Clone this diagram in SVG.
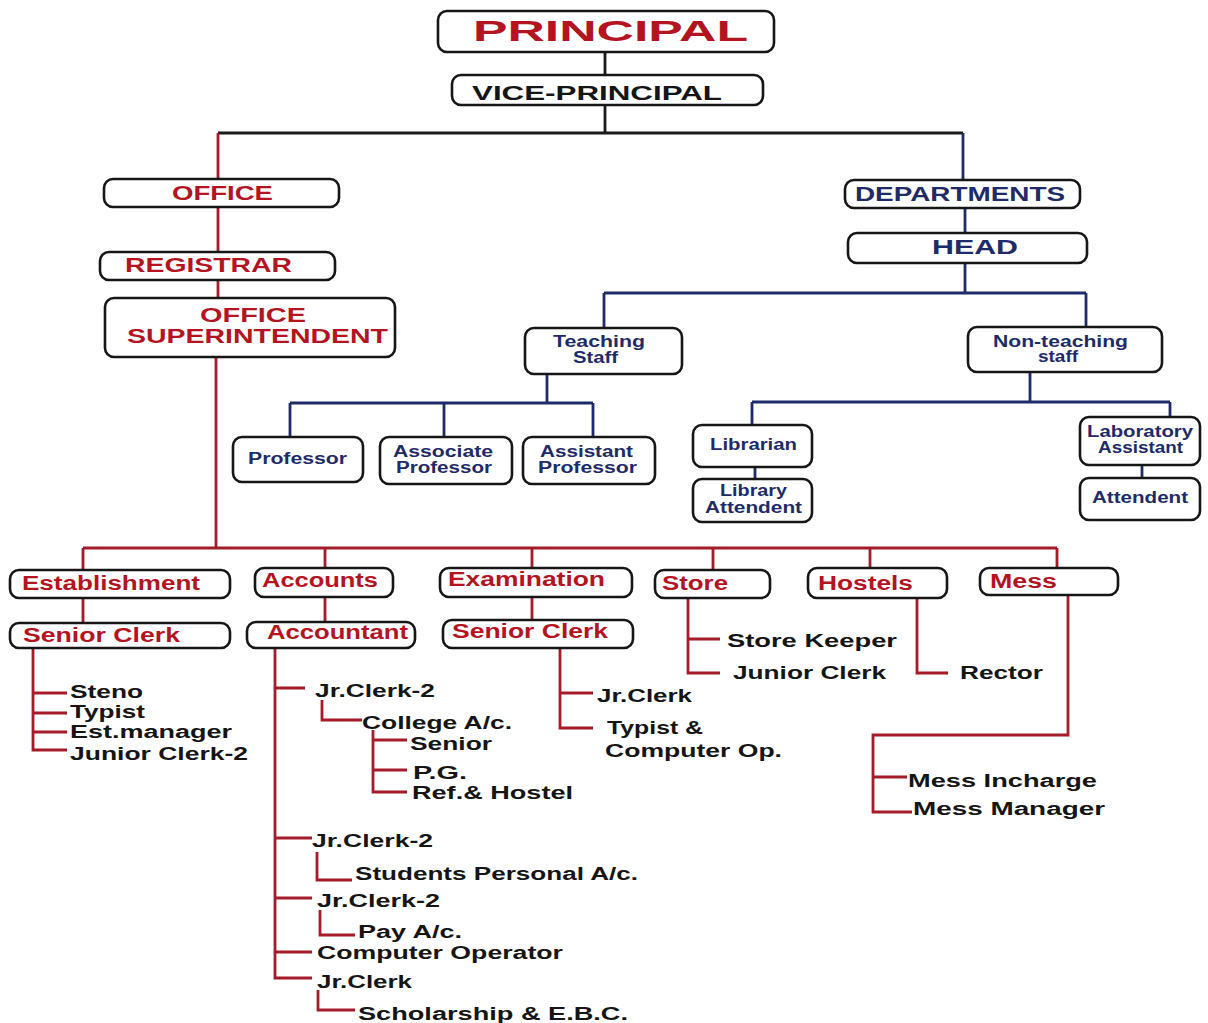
<svg xmlns="http://www.w3.org/2000/svg" width="1208" height="1023" viewBox="0 0 1208 1023">
<style>
.box{fill:#fff;stroke:#161616;stroke-width:2.6}
.t{font-family:"Liberation Sans",Arial,sans-serif;font-weight:bold}
.red{fill:#b3141f}
.navy{fill:#1f2b69}
.blk{fill:#151515}
.lr{fill:none;stroke:#a51b2a;stroke-width:2.8}
.ln{fill:none;stroke:#1f2b69;stroke-width:2.8}
.lk{fill:none;stroke:#1a1a1a;stroke-width:2.8}
</style>
<rect width="1208" height="1023" fill="#fff"/>
<g id="connectors">
<path class="lk" d="M605 52V75M605 105V133M218 133H963"/>
<path class="lr" d="M218 133V179M218 207V252M218 280V298M216 357V548M83 548H1057M83 548V570M325 548V568M532 548V568M713 548V570M870 548V568M1057 548V568M83 598V623M325 597V622M532 597V620"/>
<path class="lr" d="M33 648V750H67M33 693H67M33 713H67M33 732H67"/>
<path class="lr" d="M275 648V978H312M275 688H305M275 838H312M275 898H312M275 952H312M322 700V720H362M373 730V792H407M373 740H407M373 770H407M317 852V880H352M320 910V935H355M318 990V1010H355"/>
<path class="lr" d="M560 648V728H593M560 693H593M688 598V673H720M688 639H720M917 598V673H948M1068 595V735H873V812H912M873 777H907"/>
<path class="ln" d="M963 133V180M965 208V233M965 263V293M604 293H1086M604 293V328M1086 293V327M547 374V403M290 403H593M290 403V437M444 403V437M593 403V437M1030 372V402M752 402H1170M752 402V425M1170 402V417M755 467V479M1142 465V478"/>
</g>
<g id="principal"><rect class="box" x="438" y="11" width="336" height="41" rx="9"/><text class="t red" x="473" y="41" font-size="30" textLength="275" lengthAdjust="spacingAndGlyphs">PRINCIPAL</text></g>
<g id="vice-principal"><rect class="box" x="452" y="75" width="311" height="30" rx="9"/><text class="t blk" x="472" y="100" font-size="21" textLength="250" lengthAdjust="spacingAndGlyphs">VICE-PRINCIPAL</text></g>
<g id="office"><rect class="box" x="104" y="179" width="235" height="28" rx="9"/><text class="t red" x="172" y="200" font-size="21" textLength="101" lengthAdjust="spacingAndGlyphs">OFFICE</text></g>
<g id="registrar"><rect class="box" x="100" y="252" width="235" height="28" rx="9"/><text class="t red" x="125" y="272" font-size="20" textLength="167" lengthAdjust="spacingAndGlyphs">REGISTRAR</text></g>
<g id="office-superintendent"><rect class="box" x="105" y="298" width="290" height="59" rx="9"/><text class="t red" x="200" y="322" font-size="20" textLength="106" lengthAdjust="spacingAndGlyphs">OFFICE</text><text class="t red" x="127" y="343" font-size="20" textLength="261" lengthAdjust="spacingAndGlyphs">SUPERINTENDENT</text></g>
<g id="departments"><rect class="box" x="845" y="180" width="235" height="28" rx="9"/><text class="t navy" x="855" y="201" font-size="21" textLength="210" lengthAdjust="spacingAndGlyphs">DEPARTMENTS</text></g>
<g id="head"><rect class="box" x="848" y="233" width="239" height="30" rx="9"/><text class="t navy" x="932" y="254" font-size="21" textLength="86" lengthAdjust="spacingAndGlyphs">HEAD</text></g>
<g id="teaching-staff"><rect class="box" x="525" y="328" width="157" height="46" rx="9"/><text class="t navy" x="553" y="347" font-size="16" textLength="92" lengthAdjust="spacingAndGlyphs">Teaching</text><text class="t navy" x="573" y="363" font-size="16" textLength="45" lengthAdjust="spacingAndGlyphs">Staff</text></g>
<g id="professor"><rect class="box" x="233" y="437" width="130" height="45" rx="9"/><text class="t navy" x="248" y="464" font-size="16" textLength="99" lengthAdjust="spacingAndGlyphs">Professor</text></g>
<g id="associate-professor"><rect class="box" x="380" y="437" width="132" height="47" rx="9"/><text class="t navy" x="393" y="457" font-size="16" textLength="100" lengthAdjust="spacingAndGlyphs">Associate</text><text class="t navy" x="396" y="473" font-size="16" textLength="96" lengthAdjust="spacingAndGlyphs">Professor</text></g>
<g id="assistant-professor"><rect class="box" x="523" y="437" width="132" height="47" rx="9"/><text class="t navy" x="540" y="457" font-size="16" textLength="93" lengthAdjust="spacingAndGlyphs">Assistant</text><text class="t navy" x="538" y="473" font-size="16" textLength="99" lengthAdjust="spacingAndGlyphs">Professor</text></g>
<g id="non-teaching-staff"><rect class="box" x="968" y="327" width="194" height="45" rx="9"/><text class="t navy" x="993" y="347" font-size="16" textLength="135" lengthAdjust="spacingAndGlyphs">Non-teaching</text><text class="t navy" x="1038" y="362" font-size="16" textLength="40" lengthAdjust="spacingAndGlyphs">staff</text></g>
<g id="librarian"><rect class="box" x="693" y="425" width="119" height="42" rx="9"/><text class="t navy" x="710" y="450" font-size="16" textLength="87" lengthAdjust="spacingAndGlyphs">Librarian</text></g>
<g id="library-attendent"><rect class="box" x="693" y="479" width="119" height="43" rx="9"/><text class="t navy" x="720" y="496" font-size="16" textLength="67" lengthAdjust="spacingAndGlyphs">Library</text><text class="t navy" x="705" y="513" font-size="16" textLength="97" lengthAdjust="spacingAndGlyphs">Attendent</text></g>
<g id="laboratory-assistant"><rect class="box" x="1080" y="417" width="120" height="48" rx="9"/><text class="t navy" x="1087" y="437" font-size="16" textLength="106" lengthAdjust="spacingAndGlyphs">Laboratory</text><text class="t navy" x="1098" y="453" font-size="16" textLength="85" lengthAdjust="spacingAndGlyphs">Assistant</text></g>
<g id="attendent"><rect class="box" x="1080" y="478" width="120" height="42" rx="9"/><text class="t navy" x="1092" y="503" font-size="16" textLength="96" lengthAdjust="spacingAndGlyphs">Attendent</text></g>
<g id="establishment"><rect class="box" x="10" y="570" width="220" height="28" rx="9"/><text class="t red" x="22" y="590" font-size="20" textLength="178" lengthAdjust="spacingAndGlyphs">Establishment</text></g>
<g id="senior-clerk-est"><rect class="box" x="10" y="623" width="220" height="25" rx="9"/><text class="t red" x="23" y="642" font-size="20" textLength="157" lengthAdjust="spacingAndGlyphs">Senior Clerk</text></g>
<g id="accounts"><rect class="box" x="255" y="568" width="138" height="29" rx="9"/><text class="t red" x="262" y="587" font-size="20" textLength="116" lengthAdjust="spacingAndGlyphs">Accounts</text></g>
<g id="accountant"><rect class="box" x="247" y="622" width="168" height="26" rx="9"/><text class="t red" x="267" y="639" font-size="20" textLength="141" lengthAdjust="spacingAndGlyphs">Accountant</text></g>
<g id="examination"><rect class="box" x="440" y="568" width="192" height="29" rx="9"/><text class="t red" x="448" y="586" font-size="20" textLength="157" lengthAdjust="spacingAndGlyphs">Examination</text></g>
<g id="senior-clerk-exam"><rect class="box" x="443" y="620" width="190" height="28" rx="9"/><text class="t red" x="452" y="638" font-size="20" textLength="156" lengthAdjust="spacingAndGlyphs">Senior Clerk</text></g>
<g id="store"><rect class="box" x="655" y="570" width="115" height="28" rx="9"/><text class="t red" x="662" y="590" font-size="20" textLength="66" lengthAdjust="spacingAndGlyphs">Store</text></g>
<g id="hostels"><rect class="box" x="808" y="568" width="139" height="30" rx="9"/><text class="t red" x="818" y="590" font-size="20" textLength="95" lengthAdjust="spacingAndGlyphs">Hostels</text></g>
<g id="mess"><rect class="box" x="980" y="568" width="138" height="27" rx="9"/><text class="t red" x="990" y="588" font-size="20" textLength="67" lengthAdjust="spacingAndGlyphs">Mess</text></g>
<g id="staff-lists" class="t blk" font-size="18">
<text x="70" y="698" textLength="73" lengthAdjust="spacingAndGlyphs">Steno</text>
<text x="70" y="718" textLength="75" lengthAdjust="spacingAndGlyphs">Typist</text>
<text x="70" y="738" textLength="162" lengthAdjust="spacingAndGlyphs">Est.manager</text>
<text x="70" y="760" textLength="178" lengthAdjust="spacingAndGlyphs">Junior Clerk-2</text>
<text x="315" y="697" textLength="120" lengthAdjust="spacingAndGlyphs">Jr.Clerk-2</text>
<text x="362" y="729" textLength="150" lengthAdjust="spacingAndGlyphs">College A/c.</text>
<text x="410" y="750" textLength="82" lengthAdjust="spacingAndGlyphs">Senior</text>
<text x="413" y="779" textLength="54" lengthAdjust="spacingAndGlyphs">P.G.</text>
<text x="412" y="799" textLength="161" lengthAdjust="spacingAndGlyphs">Ref.&amp; Hostel</text>
<text x="312" y="847" textLength="121" lengthAdjust="spacingAndGlyphs">Jr.Clerk-2</text>
<text x="355" y="880" textLength="283" lengthAdjust="spacingAndGlyphs">Students Personal A/c.</text>
<text x="317" y="907" textLength="123" lengthAdjust="spacingAndGlyphs">Jr.Clerk-2</text>
<text x="358" y="938" textLength="104" lengthAdjust="spacingAndGlyphs">Pay A/c.</text>
<text x="317" y="959" textLength="246" lengthAdjust="spacingAndGlyphs">Computer Operator</text>
<text x="317" y="988" textLength="95" lengthAdjust="spacingAndGlyphs">Jr.Clerk</text>
<text x="358" y="1020" textLength="270" lengthAdjust="spacingAndGlyphs">Scholarship &amp; E.B.C.</text>
<text x="597" y="702" textLength="95" lengthAdjust="spacingAndGlyphs">Jr.Clerk</text>
<text x="607" y="734" textLength="96" lengthAdjust="spacingAndGlyphs">Typist &amp;</text>
<text x="605" y="757" textLength="177" lengthAdjust="spacingAndGlyphs">Computer Op.</text>
<text x="727" y="647" textLength="170" lengthAdjust="spacingAndGlyphs">Store Keeper</text>
<text x="733" y="679" textLength="153" lengthAdjust="spacingAndGlyphs">Junior Clerk</text>
<text x="960" y="679" textLength="83" lengthAdjust="spacingAndGlyphs">Rector</text>
<text x="908" y="787" textLength="189" lengthAdjust="spacingAndGlyphs">Mess Incharge</text>
<text x="913" y="815" textLength="192" lengthAdjust="spacingAndGlyphs">Mess Manager</text>
</g>
</svg>
